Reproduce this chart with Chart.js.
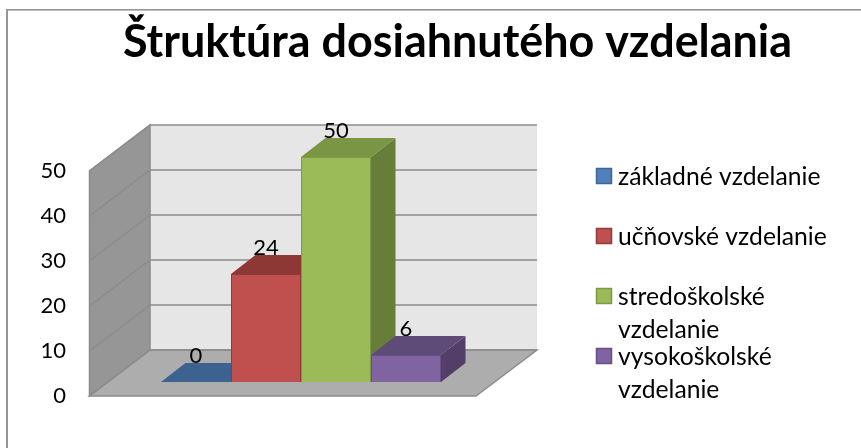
<!DOCTYPE html>
<html>
<head>
<meta charset="utf-8">
<style>
html,body{margin:0;padding:0;background:#fff;overflow:hidden}
#w{position:absolute;left:0;top:0;width:861px;height:448px}
</style>
<script src="https://cdn.jsdelivr.net/npm/chart.js@4/dist/chart.umd.min.js"></script>
</head>
<body>
<div id="w"><canvas id="c" width="861" height="448"></canvas></div>
<script>
const titleText = 'Štruktúra dosiahnutého vzdelania';
const categories = [''];
const seriesNames = ['základné vzdelanie', 'učňovské vzdelanie', 'stredoškolské vzdelanie', 'vysokoškolské vzdelanie'];
const seriesValues = [0, 24, 50, 6];
const frontColors = ['#4f81bd', '#c0504d', '#9bbb59', '#8064a2'];
const edgeColors = ['#3f6797', '#8f3b39', '#7c9a45', '#664f85'];
const topColors = ['#3c6290', '#8e3836', '#7a9644', '#5f4b78'];
const sideColors = ['#34557d', '#7a302e', '#677e39', '#533d69'];
const yTicks = [0, 10, 20, 30, 40, 50];
const FONT = 'Lato, Carlito, Calibri, sans-serif';

function poly(ctx, pts, fill, stroke, lw) {
  ctx.beginPath();
  pts.forEach((p, i) => i ? ctx.lineTo(p[0], p[1]) : ctx.moveTo(p[0], p[1]));
  ctx.closePath();
  if (fill) { ctx.fillStyle = fill; ctx.fill(); }
  if (stroke) { ctx.strokeStyle = stroke; ctx.lineWidth = lw || 1; ctx.stroke(); }
}

const scene = {
  id: 'scene',
  beforeDraw(chart) {
    const ctx = chart.ctx;
    ctx.save();
    ctx.fillStyle = '#969696';
    ctx.fillRect(6, 9, 855, 1.6);
    ctx.fillRect(6, 9, 2, 439);
    ctx.restore();
  },
  beforeDatasetsDraw(chart) {
    const ctx = chart.ctx, a = chart.chartArea, y = chart.scales.y;
    const fx = -18.5, fy = 14, bx = 42, by = -32, gx = -18, hx = 43;
    const y0 = y.getPixelForValue(0), yTop = y.getPixelForValue(yTicks[yTicks.length - 1]);
    ctx.save();
    // back wall
    poly(ctx, [[a.left + bx, yTop + by], [a.right + hx, yTop + by], [a.right + hx, y0 + by], [a.left + bx, y0 + by]], '#e6e6e6');
    // left wall
    poly(ctx, [[a.left + fx, y0 + fy], [a.left + bx, y0 + by], [a.left + bx, yTop + by], [a.left + fx, yTop + fy]], '#969696', '#8a8a8a', 1.5);
    // floor
    poly(ctx, [[a.left + fx, y0 + fy], [a.right + gx, y0 + fy], [a.right + hx, y0 + by], [a.left + bx, y0 + by]], '#adadad', '#8c8c8c', 1.5);
    // gridlines
    ctx.strokeStyle = '#8c8c8c';
    ctx.lineWidth = 1.5;
    yTicks.forEach(v => {
      const p = y.getPixelForValue(v);
      ctx.beginPath();
      ctx.moveTo(a.left + fx, p + fy);
      ctx.lineTo(a.left + bx, p + by);
      ctx.lineTo(a.right + hx, p + by);
      ctx.stroke();
    });
    // bar depth faces
    const dx = 24.5, dy = -19;
    seriesValues.forEach((v, i) => {
      const b = chart.getDatasetMeta(i).data[0];
      const l = b.x - b.width / 2, r = b.x + b.width / 2, t = y.getPixelForValue(v);
      if (v > 0) poly(ctx, [[r, t], [r + dx, t + dy], [r + dx, y0 + dy], [r, y0]], sideColors[i]);
      poly(ctx, [[l, t], [r, t], [r + dx, t + dy], [l + dx, t + dy]], topColors[i]);
    });
    ctx.restore();
  },
  afterDatasetsDraw(chart) {
    const ctx = chart.ctx, y = chart.scales.y;
    ctx.save();
    ctx.fillStyle = '#000';
    ctx.textAlign = 'center';
    ctx.textBaseline = 'middle';
    ctx.font = '22px ' + FONT;
    seriesValues.forEach((v, i) => {
      const b = chart.getDatasetMeta(i).data[0];
      ctx.fillText(String(v), b.x, y.getPixelForValue(v) - 26.5);
    });
    // legend
    ctx.textAlign = 'left';
    ctx.font = '24.7px ' + FONT;
    chart.data.datasets.forEach((ds, i) => {
      const top = 168 + i * 60;
      ctx.fillStyle = ds.backgroundColor;
      ctx.strokeStyle = ds.borderColor;
      ctx.lineWidth = 1.5;
      ctx.fillRect(596.5, top + 0.5, 15, 15);
      ctx.strokeRect(596.5, top + 0.5, 15, 15);
      ctx.fillStyle = '#000';
      const words = ds.label.split(' ');
      const lines = ctx.measureText(ds.label).width > 215 ? words : [ds.label];
      lines.forEach((ln, k) => ctx.fillText(ln, 618, top + 9 + k * 33));
    });
    ctx.restore();
  }
};

new Chart(document.getElementById('c'), {
  type: 'bar',
  data: {
    labels: categories,
    datasets: seriesNames.map((n, i) => ({
      label: n,
      data: [seriesValues[i]],
      backgroundColor: frontColors[i],
      borderColor: edgeColors[i],
      borderWidth: 1
    }))
  },
  plugins: [scene],
  options: {
    responsive: false,
    animation: false,
    layout: { padding: { left: 40, right: -14, top: 0, bottom: 0 } },
    datasets: { bar: { categoryPercentage: 0.7254, barPercentage: 1 } },
    plugins: {
      legend: { display: false },
      tooltip: { enabled: false },
      title: {
        display: true,
        text: titleText,
        color: '#000',
        font: { family: FONT, size: 44.9, weight: 'bold', lineHeight: 1.2 },
        padding: { top: 16, bottom: 87.1 }
      }
    },
    scales: {
      x: {
        grid: { display: false },
        border: { display: false },
        ticks: { display: false },
        afterFit(s) { s.height = 66; }
      },
      y: {
        min: 0,
        max: 50,
        grid: { display: false, drawTicks: false },
        border: { display: false },
        ticks: {
          stepSize: 10,
          padding: 42,
          labelOffset: 14,
          color: '#000',
          font: { family: FONT, size: 22 }
        },
        afterFit(s) { s.width = 68; }
      },
      gutter: {
        type: 'linear',
        position: 'right',
        grid: { display: false, drawTicks: false },
        border: { display: false },
        ticks: { display: false },
        afterFit(s) { s.width = 381; }
      }
    }
  }
});
</script>
</body>
</html>
